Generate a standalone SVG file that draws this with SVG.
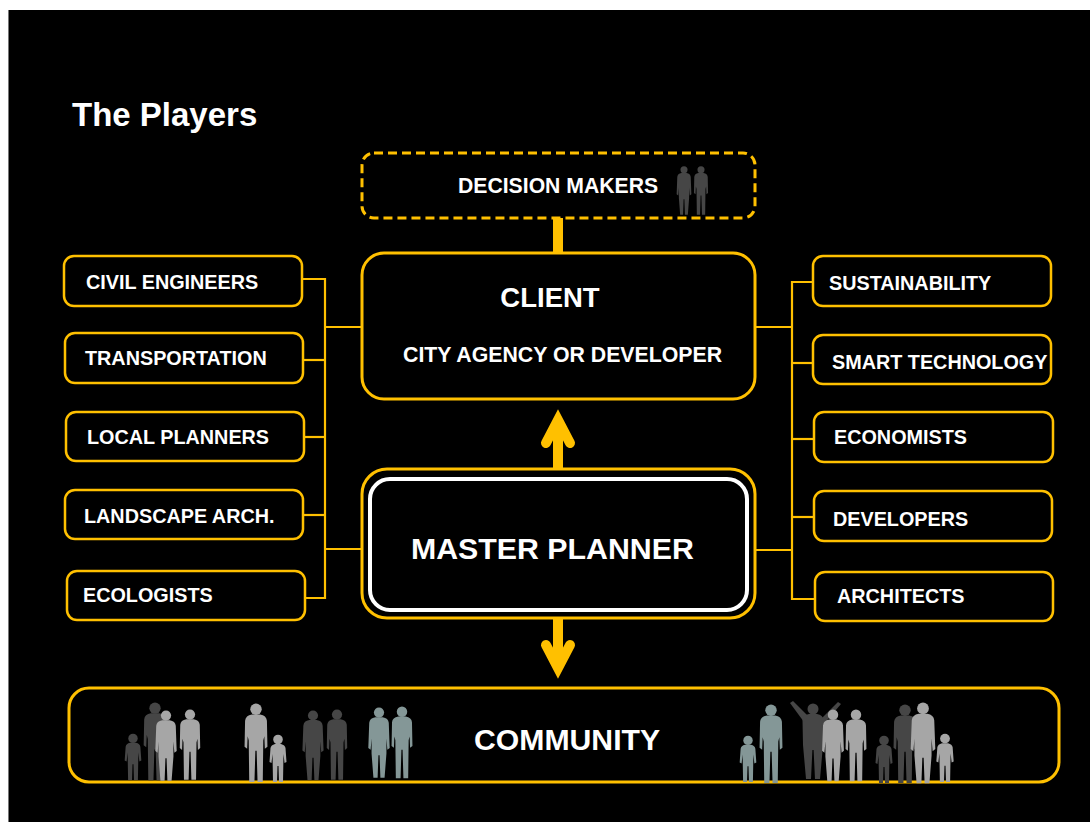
<svg xmlns="http://www.w3.org/2000/svg" xmlns:xlink="http://www.w3.org/1999/xlink" width="1090" height="822" viewBox="0 0 1090 822">
<style>
.bg{fill:#000}
.box{fill:#000;stroke:#FFC000;stroke-width:2.5}
.big{fill:#000;stroke:#FFC000;stroke-width:3}
.lbl{font-family:"Liberation Sans",Arial,sans-serif;font-weight:bold;fill:#fff;font-size:19.8px}
.line{stroke:#FFC000;stroke-width:2.2;fill:none}
.thick{stroke:#FFC000;stroke-width:10;fill:none}
.head{stroke:#FFC000;stroke-width:10;fill:none;stroke-linecap:round;stroke-linejoin:miter}
.dk{fill:#464646}
.lt{fill:#a6a6a6}
.bl{fill:#849797}
</style>
<defs>
<g id="adult">
<circle cx="0" cy="6" r="5.5"/>
<path d="M-4,11 L4,11 Q10,12 10.5,17 L11,42 L8.5,44 L8,32 L7,36 L6.5,76 L1.5,76 L0.6,46 L-0.6,46 L-1.5,76 L-6.5,76 L-7,36 L-8,32 L-8.5,44 L-11,42 L-10.5,17 Q-10,12 -4,11 Z"/>
</g>
<g id="woman">
<circle cx="0" cy="6" r="5.5"/>
<path d="M-4,11 L4,11 Q10,12 10.5,17 L11.5,44 L9,46 L8,34 L8,50 L6,76 L1.5,76 L0.6,52 L-0.6,52 L-1.5,76 L-6,76 L-8,50 L-8,34 L-9,46 L-11.5,44 L-10.5,17 Q-10,12 -4,11 Z"/>
</g>
<g id="child">
<circle cx="0" cy="5.5" r="4.8"/>
<path d="M-3,10 L3,10 Q7,11 7.5,14 L8.5,28 L6.5,29 L5.5,20 L5,48 L1,48 L0.5,32 L-0.5,32 L-1,48 L-5,48 L-5.5,20 L-6.5,29 L-8.5,28 L-7.5,14 Q-7,11 -3,10 Z"/>
</g>
</defs>

<rect class="bg" x="8" y="10" width="1082" height="812"/>
<line x1="8.5" y1="10" x2="8.5" y2="822" stroke="#777" stroke-width="1"/>

<text id="title" x="72" y="126" font-family="'Liberation Sans',Arial,sans-serif" font-weight="bold" font-size="33" fill="#fff">The Players</text>

<g id="connectors">
<polyline class="line" points="302,279 325,279 325,598 305,598"/>
<line class="line" x1="303" y1="360" x2="325" y2="360"/>
<line class="line" x1="304" y1="437" x2="325" y2="437"/>
<line class="line" x1="303" y1="515" x2="325" y2="515"/>
<line class="line" x1="325" y1="327" x2="362" y2="327"/>
<line class="line" x1="325" y1="549" x2="362" y2="549"/>
<polyline class="line" points="813,282 792,282 792,599 815,599"/>
<line class="line" x1="792" y1="363" x2="813" y2="363"/>
<line class="line" x1="792" y1="439" x2="814" y2="439"/>
<line class="line" x1="792" y1="517" x2="814" y2="517"/>
<line class="line" x1="755" y1="327" x2="792" y2="327"/>
<line class="line" x1="755" y1="550" x2="792" y2="550"/>
<line class="thick" x1="558" y1="218" x2="558" y2="253"/>
<line class="thick" x1="558" y1="469" x2="558" y2="420"/>
<polyline class="head" points="546,443 558,420 570,443"/>
<line class="thick" x1="558" y1="618" x2="558" y2="668"/>
<polyline class="head" points="546,645 558,668 570,645"/>
</g>

<g id="decision-makers">
<rect x="362" y="153" width="393" height="65" rx="12" fill="#000" stroke="#FFC000" stroke-width="3" stroke-dasharray="9 5"/>
<text class="lbl" x="458" y="193" style="font-size:21.2px">DECISION MAKERS</text>
<g class="dk">
<use xlink:href="#woman" transform="translate(684,166) scale(0.64)"/>
<use xlink:href="#adult" transform="translate(701,166) scale(0.64)"/>
</g>
</g>

<g id="client">
<rect class="big" x="362" y="253" width="393" height="146" rx="22"/>
<text class="lbl" x="550" y="307" text-anchor="middle" style="font-size:27.5px">CLIENT</text>
<text class="lbl" x="403" y="362" style="font-size:21.3px">CITY AGENCY OR DEVELOPER</text>
</g>

<g id="master-planner">
<rect class="big" x="362" y="469" width="393" height="149" rx="25"/>
<rect x="370" y="479" width="377" height="131" rx="20" fill="#000" stroke="#fff" stroke-width="4"/>
<text class="lbl" x="411" y="559" style="font-size:30.3px">MASTER PLANNER</text>
</g>

<g id="civil-engineers"><rect class="box" x="64" y="256" width="238" height="50" rx="10"/><text class="lbl" x="86" y="289">CIVIL ENGINEERS</text></g>
<g id="transportation"><rect class="box" x="65" y="333" width="238" height="50" rx="10"/><text class="lbl" x="85" y="365">TRANSPORTATION</text></g>
<g id="local-planners"><rect class="box" x="66" y="412" width="238" height="49" rx="10"/><text class="lbl" x="87" y="444">LOCAL PLANNERS</text></g>
<g id="landscape-arch"><rect class="box" x="65" y="490" width="238" height="49" rx="10"/><text class="lbl" x="84" y="523">LANDSCAPE ARCH.</text></g>
<g id="ecologists"><rect class="box" x="67" y="571" width="238" height="49" rx="10"/><text class="lbl" x="83" y="602">ECOLOGISTS</text></g>

<g id="sustainability"><rect class="box" x="813" y="256" width="238" height="50" rx="10"/><text class="lbl" x="829" y="290">SUSTAINABILITY</text></g>
<g id="smart-technology"><rect class="box" x="813" y="335" width="238" height="49" rx="10"/><text class="lbl" x="832" y="369">SMART TECHNOLOGY</text></g>
<g id="economists"><rect class="box" x="814" y="412" width="239" height="50" rx="10"/><text class="lbl" x="834" y="444">ECONOMISTS</text></g>
<g id="developers"><rect class="box" x="814" y="491" width="238" height="50" rx="10"/><text class="lbl" x="833" y="526">DEVELOPERS</text></g>
<g id="architects"><rect class="box" x="815" y="572" width="238" height="49" rx="10"/><text class="lbl" x="837" y="603">ARCHITECTS</text></g>

<g id="community">
<rect class="big" x="69" y="688" width="990" height="94" rx="20"/>
<text class="lbl" x="474" y="750" style="font-size:30.2px">COMMUNITY</text>
<g id="people">
<use class="dk" xlink:href="#child" transform="translate(133,733) scale(0.98)"/>
<use class="dk" xlink:href="#adult" transform="translate(155,702) scale(1.03)"/>
<use class="lt" xlink:href="#woman" transform="translate(166,710) scale(0.93)"/>
<use class="lt" xlink:href="#adult" transform="translate(190,709) scale(0.93)"/>
<use class="lt" xlink:href="#adult" transform="translate(256,703) scale(1.04)"/>
<use class="lt" xlink:href="#child" transform="translate(278,734) scale(1)"/>
<use class="dk" xlink:href="#woman" transform="translate(313,710) scale(0.92)"/>
<use class="dk" xlink:href="#adult" transform="translate(337,709) scale(0.93)"/>
<use class="bl" xlink:href="#woman" transform="translate(379,707) scale(0.93)"/>
<use class="bl" xlink:href="#adult" transform="translate(402,706) scale(0.95)"/>
<use class="bl" xlink:href="#child" transform="translate(748,735) scale(0.98)"/>
<use class="bl" xlink:href="#adult" transform="translate(771,704) scale(1.04)"/>
<g class="dk">
<circle cx="813" cy="709" r="5.5"/>
<path d="M809,714 L817,714 Q823,715 823.5,720 L823,745 L820,779 L815,779 L813.6,750 L812.4,750 L811,779 L806,779 L803,745 L802.5,720 Q803,715 809,714 Z"/>
<path d="M804,722 L790,703 L793,701 L808,716 Z"/>
<path d="M820,720 L838,702 L841,704 L824,724 Z"/>
</g>
<use class="lt" xlink:href="#woman" transform="translate(833,709) scale(0.95)"/>
<use class="lt" xlink:href="#adult" transform="translate(856,709) scale(0.95)"/>
<use class="dk" xlink:href="#child" transform="translate(884,735) scale(1)"/>
<use class="dk" xlink:href="#adult" transform="translate(905,704) scale(1.04)"/>
<use class="lt" xlink:href="#woman" transform="translate(923,702) scale(1.07)"/>
<use class="lt" xlink:href="#child" transform="translate(945,733) scale(1.02)"/>
</g>
</g>
</svg>
